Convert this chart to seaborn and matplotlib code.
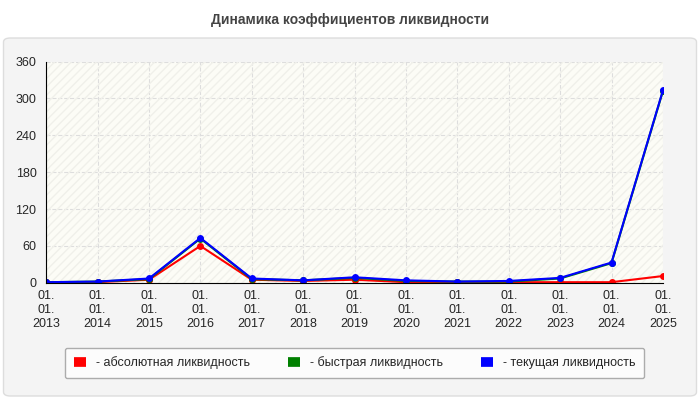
import matplotlib.pyplot as plt
import seaborn as sns
import pandas as pd
from matplotlib.patches import FancyBboxPatch

years = [str(y) for y in range(2013, 2026)]
labels = ['01.\n01.\n' + y for y in years]
absolute = [0.5, 1, 5, 60, 5, 3, 5, 1, 1, 1, 1, 1, 11]
quick = [1, 2, 6, 72, 6, 4, 8, 3, 2, 2, 7, 32, 312]
current = [1, 2, 7, 73, 7, 4, 9, 4, 2, 3, 8, 33, 313]

df = pd.DataFrame({'x': range(len(years)), 'abs': absolute, 'quick': quick, 'cur': current})

sns.set_style('white')
plt.rcParams['font.family'] = ['Liberation Sans', 'DejaVu Sans']

fig = plt.figure(figsize=(7, 4), dpi=100)
fig.patch.set_facecolor('white')
fig.patches.append(FancyBboxPatch((0.005, 0.01), 0.99, 0.895, boxstyle='round,pad=0,rounding_size=0.01',
                                  transform=fig.transFigure, facecolor='#f4f4f4', edgecolor='#dddddd', zorder=-1))
fig.text(0.5, 0.95, 'Динамика коэффициентов ликвидности', ha='center', va='center',
         fontsize=10, fontweight='bold', color='#444444')

ax = fig.add_axes([0.066, 0.293, 0.881, 0.553])
ax.set_facecolor('#fcfcf6')
ax.fill_between([-0.5, 13], 0, 360, facecolor='none', hatch='////', edgecolor='#f0f0ea', linewidth=0)

sns.lineplot(data=df, x='x', y='abs', ax=ax, color='red', marker='o', markersize=5,
             markeredgewidth=0, linewidth=1.5, label='- абсолютная ликвидность')
sns.lineplot(data=df, x='x', y='quick', ax=ax, color='green', marker='o', markersize=5,
             markeredgewidth=0, linewidth=1.5, label='- быстрая ликвидность')
sns.lineplot(data=df, x='x', y='cur', ax=ax, color='blue', marker='o', markersize=5,
             markeredgewidth=0, linewidth=1.5, label='- текущая ликвидность')

ax.set_xlim(0, len(years) - 1)
ax.set_ylim(0, 360)
ax.set_yticks(range(0, 361, 60))
ax.set_xticks(range(len(years)))
ax.set_xticklabels(labels, fontsize=9)
ax.tick_params(axis='y', labelsize=9)
ax.tick_params(axis='x', pad=2)
ax.set_xlabel('')
ax.set_ylabel('')
ax.grid(True, color='#dddddd', linestyle='--', linewidth=0.8)
for s in ['top', 'right']:
    ax.spines[s].set_visible(False)
ax.spines['left'].set_color('black')
ax.spines['bottom'].set_color('black')

leg = ax.legend(loc='upper center', bbox_to_anchor=(0.5, -0.265), ncol=3, fontsize=9,
                frameon=True, fancybox=True, edgecolor='#999999', handlelength=1.0,
                handleheight=0.6, columnspacing=3.0, borderpad=0.7)
for h in leg.legend_handles:
    h.set_marker('')
    h.set_linewidth(7)
    h.set_solid_capstyle('butt')

fig.savefig('out.png', dpi=100)
